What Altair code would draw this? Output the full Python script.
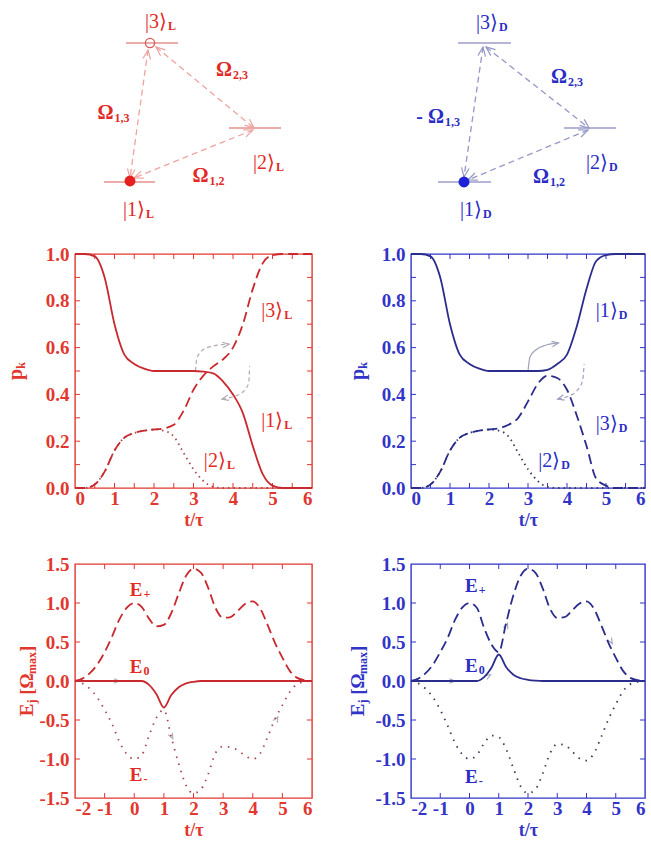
import math
import altair as alt
import pandas as pd

FONT = "Liberation Serif"

RED = {"axis": "#e2372f", "line": "#c8282e", "dot": "#a84a50", "faint": "#eda3a0",
       "level": "#da5a56", "text": "#e22a26", "mark": "#e61f1f", "arrow": "#b4aab0"}
BLUE = {"axis": "#3234c8", "line": "#2b2d8c", "dot": "#3a3a62", "faint": "#9597c6",
        "level": "#6d6fb0", "text": "#2a2cc6", "mark": "#1f22d6", "arrow": "#9ea2bc"}

WL, WR = 237, 234   # plot widths, left / right column
HP = 234            # plot height
HD = 216            # level-scheme panel height

CHEVRON = "M-1,-0.42L0,0L-1,0.42"

# ---------------- level schemes (panel units, y downward) ----------------
lev_L_x1 = [51, 154, 29]
lev_L_x2 = [103, 206, 80]
lev_L_y = [43, 128, 182]
cpl_L_xa = [73, 81, 178]
cpl_L_ya = [50, 47, 130]
cpl_L_xb = [55, 179, 59]
cpl_L_yb = [178, 128, 178]
dot_L_x, dot_L_y = [55], [181]
ring_L_x, ring_L_y = [75], [43]
om_L_x = [38.5, 157, 133.5]
om_L_y = [113, 70, 176]
om_L_main = ["Ω", "Ω", "Ω"]
om_L_sub = ["1,3", "2,3", "1,2"]
ket_L_x = [92, 200, 70]
ket_L_y = [22, 163, 210]

lev_D_x1 = [47, 153, 27]
lev_D_x2 = [100, 205, 80]
lev_D_y = [43, 128, 182]
cpl_D_xa = [72, 75, 177]
cpl_D_ya = [47, 47, 130]
cpl_D_xb = [53, 178, 57]
cpl_D_yb = [177, 128, 180]
dot_D_x, dot_D_y = [53], [182]
om_D_x = [33, 156, 138]
om_D_y = [117, 77, 177]
om_D_main = ["- Ω", "Ω", "Ω"]
om_D_sub = ["1,3", "2,3", "1,2"]
ket_D_x = [87, 197, 71]
ket_D_y = [23, 163, 210]

ket_main = ["|3⟩", "|2⟩", "|1⟩"]

# ---------------- populations p_k(t) ----------------
t_pop = [0.0, 0.25, 0.5, 0.75, 1.0, 1.25, 1.5, 1.75, 2.0, 2.25, 2.5, 2.75, 3.0,
         3.25, 3.5, 3.75, 4.0, 4.25, 4.5, 4.75, 5.0, 5.25, 5.5, 5.75, 6.0]
p1_L = [1.0, 1.0, 0.99, 0.90, 0.70, 0.57, 0.53, 0.51, 0.50, 0.50, 0.50, 0.50, 0.50,
        0.497, 0.49, 0.455, 0.40, 0.32, 0.18, 0.06, 0.01, 0.0, 0.0, 0.0, 0.0]
p3_L = [0.0, 0.0, 0.015, 0.07, 0.16, 0.215, 0.235, 0.245, 0.25, 0.255, 0.27, 0.33, 0.42,
        0.48, 0.52, 0.55, 0.60, 0.70, 0.85, 0.96, 0.995, 1.0, 1.0, 1.0, 1.0]
p2_L = [0.0, 0.0, 0.015, 0.07, 0.16, 0.215, 0.235, 0.245, 0.25, 0.245, 0.22, 0.15, 0.08,
        0.03, 0.005, 0.0, 0.0, 0.0, 0.0, 0.0, 0.0, 0.0, 0.0, 0.0, 0.0]
p1_D = [1.0, 1.0, 0.99, 0.90, 0.70, 0.57, 0.53, 0.51, 0.50, 0.50, 0.50, 0.50, 0.50,
        0.50, 0.505, 0.53, 0.57, 0.69, 0.85, 0.97, 0.995, 1.0, 1.0, 1.0, 1.0]
p3_D = [0.0, 0.0, 0.015, 0.07, 0.16, 0.215, 0.235, 0.245, 0.25, 0.255, 0.27, 0.30, 0.37,
        0.445, 0.48, 0.47, 0.42, 0.31, 0.18, 0.04, 0.01, 0.0, 0.0, 0.0, 0.0]
p2_D = [0.0, 0.0, 0.015, 0.07, 0.16, 0.215, 0.235, 0.245, 0.25, 0.245, 0.22, 0.15, 0.08,
        0.03, 0.005, 0.0, 0.0, 0.0, 0.0, 0.0, 0.0, 0.0, 0.0, 0.0, 0.0]

# state labels inside the population panels
pk_L_t = [5.27, 5.27, 3.82]
pk_L_p = [0.758, 0.288, 0.117]
pk_L_main = ["|3⟩", "|1⟩", "|2⟩"]
pk_D_t = [5.30, 5.30, 3.83]
pk_D_p = [0.758, 0.274, 0.117]
pk_D_main = ["|1⟩", "|3⟩", "|2⟩"]

# curved guide arrows (t, p, dash)
arr_L = [([3.05, 3.08, 3.2, 3.45, 3.9], [0.50, 0.55, 0.585, 0.605, 0.615], [4, 3]),
         ([4.42, 4.40, 4.25, 4.0, 3.72], [0.52, 0.45, 0.41, 0.39, 0.38], [4, 3])]
arr_D = [([3.0, 3.05, 3.2, 3.45, 3.78], [0.50, 0.56, 0.59, 0.61, 0.62], None),
         ([4.44, 4.40, 4.25, 4.0, 3.76], [0.53, 0.46, 0.415, 0.39, 0.38], [4, 3])]

# ---------------- eigenenergies E_j(t) ----------------
t_en = [-2.0, -1.75, -1.5, -1.25, -1.0, -0.75, -0.5, -0.25, 0.0, 0.25, 0.5, 0.75, 1.0,
        1.25, 1.5, 1.75, 2.0, 2.25, 2.5, 2.75, 3.0, 3.25, 3.5, 3.75, 4.0, 4.25, 4.5,
        4.75, 5.0, 5.25, 5.5, 5.75, 6.0]
Ep_L = [0.0, 0.03, 0.10, 0.21, 0.37, 0.57, 0.79, 0.94, 1.0, 0.95, 0.80, 0.70, 0.72,
        0.87, 1.12, 1.35, 1.44, 1.39, 1.19, 0.93, 0.81, 0.82, 0.90, 0.99, 1.02, 0.93,
        0.72, 0.49, 0.30, 0.13, 0.04, 0.01, 0.0]
E0_L = [0.0, 0.0, 0.0, 0.0, 0.0, 0.0, 0.0, 0.0, 0.0, 0.0, -0.05, -0.17, -0.34,
        -0.18, -0.08, -0.03, -0.01, 0.0, 0.0, 0.0, 0.0, 0.0, 0.0, 0.0, 0.0, 0.0,
        0.0, 0.0, 0.0, 0.0, 0.0, 0.0, 0.0]
Em_L = [0.0, -0.03, -0.10, -0.21, -0.37, -0.55, -0.78, -0.94, -1.0, -0.95, -0.70, -0.47, -0.37,
        -0.72, -1.06, -1.34, -1.44, -1.39, -1.19, -0.92, -0.84, -0.85, -0.89, -0.96, -1.0,
        -0.93, -0.72, -0.49, -0.31, -0.14, -0.04, -0.01, 0.0]
Ep_D = [0.0, 0.03, 0.10, 0.21, 0.37, 0.55, 0.78, 0.94, 1.0, 0.94, 0.68, 0.47, 0.37,
        0.74, 1.10, 1.35, 1.44, 1.39, 1.19, 0.93, 0.81, 0.82, 0.90, 0.99, 1.02, 0.93,
        0.72, 0.49, 0.30, 0.13, 0.04, 0.01, 0.0]
E0_D = [0.0, 0.0, 0.0, 0.0, 0.0, 0.0, 0.0, 0.0, 0.0, 0.0, 0.05, 0.17, 0.34,
        0.18, 0.08, 0.035, 0.015, 0.005, 0.0, 0.0, 0.0, 0.0, 0.0, 0.0, 0.0, 0.0,
        0.0, 0.0, 0.0, 0.0, 0.0, 0.0, 0.0]
Em_D = [0.0, -0.03, -0.10, -0.21, -0.37, -0.57, -0.79, -0.94, -1.0, -0.95, -0.80, -0.70, -0.72,
        -0.87, -1.12, -1.35, -1.44, -1.39, -1.19, -0.93, -0.81, -0.82, -0.90, -0.99, -1.02,
        -0.93, -0.72, -0.49, -0.30, -0.13, -0.04, -0.01, 0.0]

en_lab_t = [0.28, 0.28, 0.28]
en_L_E = [1.17, 0.18, -1.21]
en_D_E = [1.22, 0.19, -1.23]
en_sub = ["+", "0", "-"]

# small arrowheads marking the adiabatic paths (t, E, direction in degrees)
ah_L_t = [-0.5, 1.3, 4.85]
ah_L_E = [0.0, -0.74, -0.46]
ah_L_a = [0, 65, 300]
ah_D_t = [-0.5, 0.72, 1.3, 4.88]
ah_D_E = [0.0, 0.08, 0.74, 0.48]
ah_D_a = [0, 330, 290, 60]


def head_angle(x1, y1, x2, y2):
    return math.degrees(math.atan2(y2 - y1, x2 - x1)) % 360


def level_scheme(width, pal, lx1, lx2, ly, cxa, cya, cxb, cyb, dx_, dy_, ring,
                 omx, omy, om_main, om_sub, kx, ky, sub):
    xs = alt.Scale(domain=[0, width], nice=False, zero=False)
    ys = alt.Scale(domain=[0, HD], nice=False, zero=False, reverse=True)

    def X(f):
        return alt.X(f, type="quantitative", scale=xs, axis=None)

    def Y(f):
        return alt.Y(f, type="quantitative", scale=ys, axis=None)

    levels = alt.Chart(pd.DataFrame({"x1": lx1, "x2": lx2, "y": ly})).mark_rule(
        color=pal["level"], strokeWidth=1.2).encode(x=X("x1"), x2="x2", y=Y("y"))
    cdf = pd.DataFrame({"xa": cxa, "ya": cya, "xb": cxb, "yb": cyb})
    links = alt.Chart(cdf).mark_rule(color=pal["faint"], strokeWidth=1.3,
                                     strokeDash=[6, 4]).encode(
        x=X("xa"), y=Y("ya"), x2="xb", y2="yb")
    hx, hy, ha = [], [], []
    for xa, ya, xb, yb in zip(cxa, cya, cxb, cyb):
        hx += [xb, xa]
        hy += [yb, ya]
        ha += [head_angle(xa, ya, xb, yb), head_angle(xb, yb, xa, ya)]
    heads = alt.Chart(pd.DataFrame({"x": hx, "y": hy, "a": ha})).mark_point(
        shape=CHEVRON, filled=False, size=330, strokeWidth=1.2, color=pal["faint"],
        opacity=1).encode(x=X("x"), y=Y("y"), angle=alt.Angle("a:Q", scale=None))
    dot = alt.Chart(pd.DataFrame({"x": dx_, "y": dy_})).mark_circle(
        size=120, color=pal["mark"], opacity=1).encode(x=X("x"), y=Y("y"))
    layers = [levels, links, heads, dot]
    if ring:
        layers.append(alt.Chart(pd.DataFrame({"x": ring[0], "y": ring[1]})).mark_point(
            shape="circle", filled=False, size=85, strokeWidth=1.3, color=pal["level"],
            opacity=1).encode(x=X("x"), y=Y("y")))
    odf = pd.DataFrame({"x": omx, "y": omy, "m": om_main, "s": om_sub})
    layers.append(alt.Chart(odf).mark_text(
        align="right", baseline="middle", font=FONT, fontSize=20, fontWeight="bold",
        color=pal["text"]).encode(x=X("x"), y=Y("y"), text="m:N"))
    layers.append(alt.Chart(odf).mark_text(
        align="left", baseline="middle", dx=1, dy=5, font=FONT, fontSize=12,
        fontWeight="bold", color=pal["text"]).encode(x=X("x"), y=Y("y"), text="s:N"))
    kdf = pd.DataFrame({"x": kx, "y": ky, "m": ket_main, "s": [sub] * 3})
    layers.append(alt.Chart(kdf).mark_text(
        align="right", baseline="middle", font=FONT, fontSize=20,
        color=pal["text"]).encode(x=X("x"), y=Y("y"), text="m:N"))
    layers.append(alt.Chart(kdf).mark_text(
        align="left", baseline="middle", dx=1, dy=4, font=FONT, fontSize=12,
        fontWeight="bold", color=pal["text"]).encode(x=X("x"), y=Y("y"), text="s:N"))
    return alt.layer(*layers).properties(
        width=width, height=HD, view=alt.ViewBackground(strokeOpacity=0))


def axis(values, fmt, title, pal, orient_x):
    kw = dict(values=values, format=fmt, grid=False, domain=False, ticks=False,
              tickSize=0, labelFont=FONT, labelFontSize=19, labelFontWeight="bold",
              labelColor=pal["axis"],
              labelExpr="replace(datum.label, '\u2212', '-')")
    if orient_x:
        kw.update(title=title, labelPadding=1, titleFont=FONT, titleFontSize=18,
                  titleFontWeight="bold", titleColor=pal["axis"], titlePadding=3)
    else:
        kw.update(title=None, labelPadding=6)
    return alt.Axis(**kw)


def panel(width, pal, xdom, ydom, xvals, yvals, xfmt, yfmt, xticks, yticks,
          curves, labels, sub, arrows, heads, title_pieces, title_x):
    xs = alt.Scale(domain=xdom, nice=False, zero=False)
    ys = alt.Scale(domain=ydom, nice=False, zero=False)
    xax = axis(xvals, xfmt, "t/τ", pal, True)
    yax = axis(yvals, yfmt, None, pal, False)

    def X(f):
        return alt.X(f, type="quantitative", scale=xs, axis=xax)

    def Y(f):
        return alt.Y(f, type="quantitative", scale=ys, axis=yax)

    layers = []
    # inward minor ticks on all four sides of the frame
    tk = 5
    ydf = pd.DataFrame({"v": yticks})
    xdf = pd.DataFrame({"t": xticks})
    rule = dict(color=pal["axis"], strokeWidth=1)
    layers.append(alt.Chart(ydf).mark_rule(**rule).encode(
        y=Y("v"), x=alt.value(0), x2=alt.value(tk)))
    layers.append(alt.Chart(ydf).mark_rule(**rule).encode(
        y=Y("v"), x=alt.value(width - tk), x2=alt.value(width)))
    layers.append(alt.Chart(xdf).mark_rule(**rule).encode(
        x=X("t"), y=alt.value(HP - tk), y2=alt.value(HP)))
    layers.append(alt.Chart(xdf).mark_rule(**rule).encode(
        x=X("t"), y=alt.value(0), y2=alt.value(tk)))

    sx = width / (xdom[1] - xdom[0])
    sy = HP / (ydom[1] - ydom[0])
    # guide arrows
    for ts, ps, dash in arrows:
        kw = dict(interpolate="monotone", color=pal["arrow"], strokeWidth=1.2)
        if dash:
            kw["strokeDash"] = dash
        layers.append(alt.Chart(pd.DataFrame({"t": ts, "v": ps})).mark_line(**kw).encode(
            x=X("t"), y=Y("v")))
        ang = head_angle(ts[-2] * sx, -ps[-2] * sy, ts[-1] * sx, -ps[-1] * sy)
        layers.append(alt.Chart(pd.DataFrame({"t": [ts[-1]], "v": [ps[-1]], "a": [ang]})).mark_point(
            shape=CHEVRON, filled=False, size=170, strokeWidth=1.2, color=pal["arrow"],
            opacity=1).encode(x=X("t"), y=Y("v"), angle=alt.Angle("a:Q", scale=None)))
    if heads:
        ht, hv, ha = heads
        layers.append(alt.Chart(pd.DataFrame({"t": ht, "v": hv, "a": ha})).mark_point(
            shape=CHEVRON, filled=False, size=120, strokeWidth=1.1, color=pal["arrow"],
            opacity=1).encode(x=X("t"), y=Y("v"), angle=alt.Angle("a:Q", scale=None)))

    # curves
    for ts, vs, dash, color in curves:
        kw = dict(interpolate="monotone", color=color, strokeWidth=1.8)
        if dash:
            kw["strokeDash"] = dash
        layers.append(alt.Chart(pd.DataFrame({"t": ts, "v": vs})).mark_line(**kw).encode(
            x=X("t"), y=Y("v")))

    # curve labels: main symbol + subscript
    lt, lv, lm, main_size, main_weight = labels
    ldf = pd.DataFrame({"t": lt, "v": lv, "m": lm, "s": sub})
    layers.append(alt.Chart(ldf).mark_text(
        align="right", baseline="middle", font=FONT, fontSize=main_size,
        fontWeight=main_weight, color=pal["text"]).encode(x=X("t"), y=Y("v"), text="m:N"))
    layers.append(alt.Chart(ldf).mark_text(
        align="left", baseline="middle", dx=1, dy=4, font=FONT, fontSize=12,
        fontWeight="bold", color=pal["text"]).encode(x=X("t"), y=Y("v"), text="s:N"))

    # rotated y title assembled from pieces (text, dx along reading direction, dy, size)
    for txt, ddx, ddy, size in title_pieces:
        layers.append(alt.Chart(pd.DataFrame({"s": [txt]})).mark_text(
            angle=270, align="left", baseline="middle", dx=ddx, dy=ddy, font=FONT,
            fontSize=size, fontWeight="bold", color=pal["axis"]).encode(
            x=alt.value(title_x), y=alt.value(HP / 2), text="s:N"))

    return alt.layer(*layers).properties(
        width=width, height=HP,
        view=alt.ViewBackground(stroke=pal["axis"], strokeWidth=1.4))


pk_title = [("p", -9, 0, 20), ("k", 2.2, 5, 12)]
ej_title = [("E", -35.3, 0, 19), ("j", -22.6, 5, 12), ("[Ω", -13.85, 0, 19),
            ("max", 7.05, 5, 12), ("]", 29.05, 0, 19)]

pop_xt = [0.5, 1, 1.5, 2, 2.5, 3, 3.5, 4, 4.5, 5, 5.5]
pop_yt = [0.1, 0.2, 0.3, 0.4, 0.5, 0.6, 0.7, 0.8, 0.9]
en_xt = [-1, 0, 1, 2, 3, 4, 5]
en_yt = [-1.0, -0.5, 0.0, 0.5, 1.0]

diag_L = level_scheme(WL, RED, lev_L_x1, lev_L_x2, lev_L_y, cpl_L_xa, cpl_L_ya,
                      cpl_L_xb, cpl_L_yb, dot_L_x, dot_L_y, (ring_L_x, ring_L_y),
                      om_L_x, om_L_y, om_L_main, om_L_sub, ket_L_x, ket_L_y, "L")
diag_D = level_scheme(WR, BLUE, lev_D_x1, lev_D_x2, lev_D_y, cpl_D_xa, cpl_D_ya,
                      cpl_D_xb, cpl_D_yb, dot_D_x, dot_D_y, None,
                      om_D_x, om_D_y, om_D_main, om_D_sub, ket_D_x, ket_D_y, "D")

pop_L = panel(WL, RED, [0, 6], [0, 1], list(range(7)), [0, 0.2, 0.4, 0.6, 0.8, 1.0],
              "d", ".1f", pop_xt, pop_yt,
              [(t_pop, p2_L, [1.5, 4], RED["dot"]),
               (t_pop, p3_L, [10, 5], RED["line"]),
               (t_pop, p1_L, None, RED["line"])],
              (pk_L_t, pk_L_p, pk_L_main, 20, "normal"), "L", arr_L, None, pk_title, -59)
pop_D = panel(WR, BLUE, [0, 6], [0, 1], list(range(7)), [0, 0.2, 0.4, 0.6, 0.8, 1.0],
              "d", ".1f", pop_xt, pop_yt,
              [(t_pop, p2_D, [1.5, 4], BLUE["dot"]),
               (t_pop, p3_D, [10, 5], BLUE["line"]),
               (t_pop, p1_D, None, BLUE["line"])],
              (pk_D_t, pk_D_p, pk_D_main, 20, "normal"), "D", arr_D, None, pk_title, -53)

en_L = panel(WL, RED, [-2, 6], [-1.5, 1.5], list(range(-2, 7)),
             [-1.5, -1.0, -0.5, 0.0, 0.5, 1.0, 1.5], "d", ".1f", en_xt, en_yt,
             [(t_en, Em_L, [1.5, 6], RED["dot"]),
              (t_en, Ep_L, [10, 5], RED["line"]),
              (t_en, E0_L, None, RED["line"])],
             (en_lab_t, en_L_E, ["E", "E", "E"], 19, "bold"), en_sub, [],
             (ah_L_t, ah_L_E, ah_L_a), ej_title, -48)
en_D = panel(WR, BLUE, [-2, 6], [-1.5, 1.5], list(range(-2, 7)),
             [-1.5, -1.0, -0.5, 0.0, 0.5, 1.0, 1.5], "d", ".1f", en_xt, en_yt,
             [(t_en, Em_D, [1.5, 6], BLUE["dot"]),
              (t_en, Ep_D, [10, 5], BLUE["line"]),
              (t_en, E0_D, None, BLUE["line"])],
             (en_lab_t, en_D_E, ["E", "E", "E"], 19, "bold"), en_sub, [],
             (ah_D_t, ah_D_E, ah_D_a), ej_title, -53.5)

chart = alt.concat(diag_L, diag_D, pop_L, pop_D, en_L, en_D, columns=2,
                   spacing={"row": 24, "column": 30}).properties(
    padding={"left": 5, "top": 0, "right": 0, "bottom": 0},
    background="white").configure(font=FONT)

chart.save("out.html", embed_options={"renderer": "svg", "actions": False})
